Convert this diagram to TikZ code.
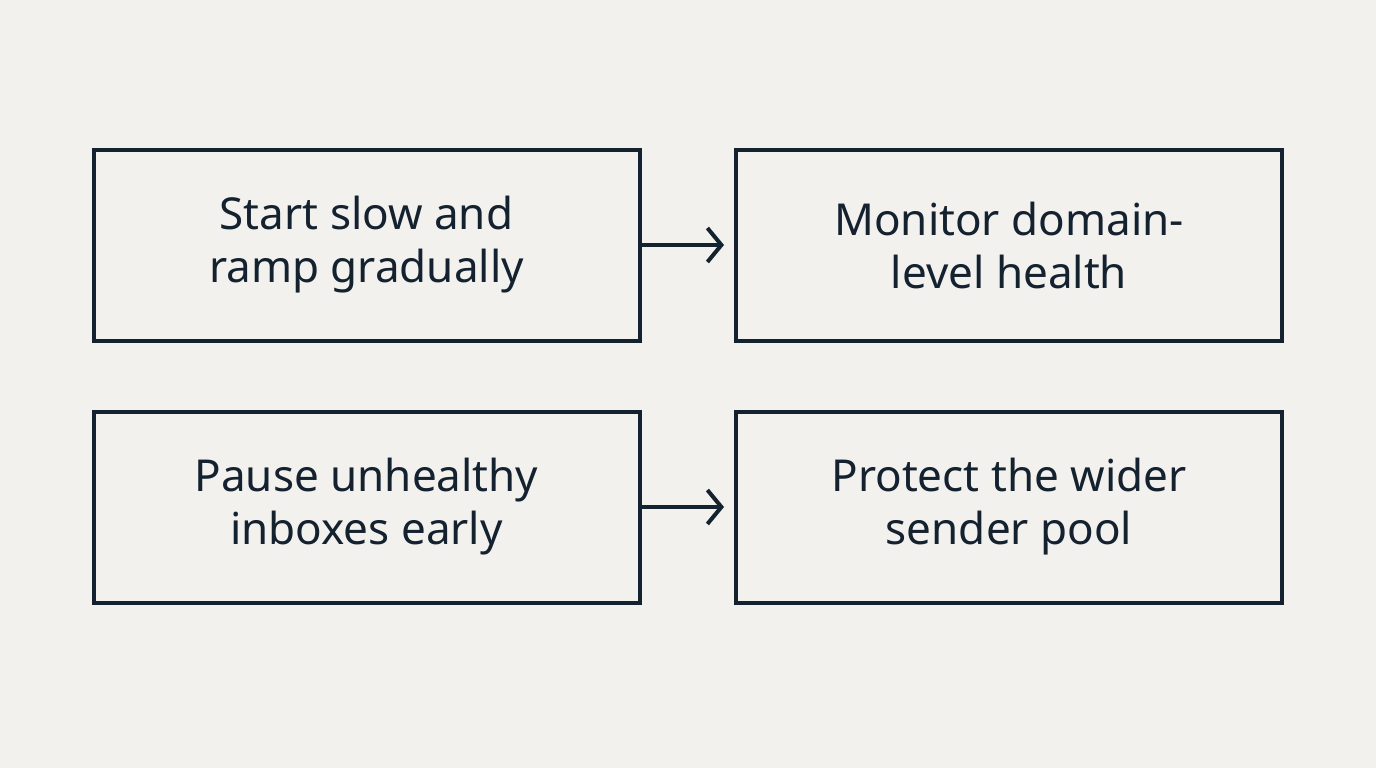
\documentclass[tikz,border=0pt]{standalone}
\usepackage{fontspec}
\setmainfont{Noto Sans}
\usetikzlibrary{arrows.meta}
\definecolor{ink}{HTML}{14212E}
\definecolor{bg}{HTML}{F2F1EE}
\begin{document}
\begin{tikzpicture}[x=1pt,y=-1pt,
  box/.style={draw=ink,line width=4pt,minimum width=546pt,minimum height=191pt,inner sep=0pt,
    align=center,text=ink,font=\fontsize{44}{53}\selectfont},
  conn/.style={draw=ink,line width=4pt,-{Straight Barb[length=14pt,width=34pt,line width=4pt]}}]
\fill[bg] (0,0) rectangle (1376,768);
\useasboundingbox (0,0) rectangle (1376,768);
\node[box] (a) at (366.5,245) {Start slow and\\ramp gradually};
\node[box] (b) at (1009,245) {Monitor domain-\\level health};
\node[box] (c) at (366.5,507) {Pause unhealthy\\inboxes early};
\node[box] (d) at (1009,507) {Protect the wider\\sender pool};
\coordinate (ab) at ([xshift=-10pt]b.west);
\coordinate (cd) at ([xshift=-10pt]d.west);
\draw[conn] (a.east) -- (ab);
\draw[conn] (c.east) -- (cd);
\end{tikzpicture}
\end{document}
